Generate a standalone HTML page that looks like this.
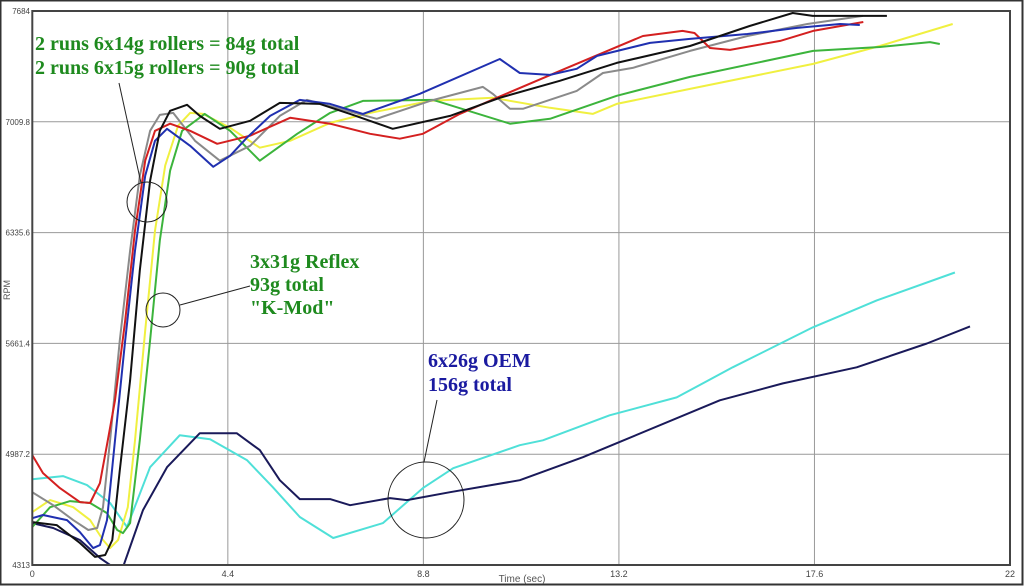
<!DOCTYPE html>
<html><head><meta charset="utf-8"><style>
html,body{margin:0;padding:0;background:#fff;}
svg{display:block;}
</style></head><body>
<svg id="chart" width="1024" height="586" xmlns="http://www.w3.org/2000/svg" font-family="Liberation Sans, sans-serif">
<rect x="0.5" y="0.5" width="1022" height="584" fill="#fff" stroke="#333" stroke-width="2"/>
<g id="grid"></g>
<g id="series" clip-path="url(#clip)"></g>
<defs><clipPath id="clip"><rect x="32" y="10" width="978" height="555"/></clipPath></defs>
<g id="axes"></g>
<text x="10" y="290" font-size="9" fill="#555" transform="rotate(-90 10 290)" text-anchor="middle">RPM</text>
<text x="522" y="582" font-size="10" fill="#555" text-anchor="middle">Time (sec)</text>
<g font-family="Liberation Serif, serif" font-weight="bold" font-size="20">
<text x="35" y="50" fill="#1e8a1e">2 runs 6x14g rollers = 84g total</text>
<text x="35" y="74" fill="#1e8a1e">2 runs 6x15g rollers = 90g total</text>
<text x="250" y="268" fill="#1e8a1e">3x31g Reflex</text>
<text x="250" y="291" fill="#1e8a1e">93g total</text>
<text x="250" y="314" fill="#1e8a1e">"K-Mod"</text>
<text x="428" y="367" fill="#1a1aa0">6x26g OEM</text>
<text x="428" y="391" fill="#1a1aa0">156g total</text>
</g>
<g fill="none" stroke="#222" stroke-width="1">
<circle cx="147" cy="202" r="20"/>
<line x1="119" y1="83" x2="141" y2="183"/>
<circle cx="163" cy="310" r="17"/>
<line x1="180" y1="305" x2="250" y2="286"/>
<circle cx="426" cy="500" r="38"/>
<line x1="437" y1="400" x2="424" y2="462"/>
</g>
</svg>
<script>
const xTicks=[0,4.4,8.8,13.2,17.6,22];
const xTickLabels=["0","4.4","8.8","13.2","17.6","22"];
const yTicks=[4313,4987.2,5661.4,6335.6,7009.8,7684];
const yTickLabels=["4313","4987.2","5661.4","6335.6","7009.8","7684"];
const redT=[0,0.24,0.62,1.07,1.3,1.52,1.7,1.86,2.09,2.31,2.54,2.76,3.1,3.55,4.16,4.9,5.8,6.7,7.6,8.27,8.79,9.62,10.45,12.03,13.74,14.63,14.9,15.25,15.7,16.83,17.57,18.7];
const redR=[4981,4872,4781,4696,4690,4811,5072,5315,5801,6348,6773,6955,6998,6955,6876,6925,7034,6998,6937,6907,6937,7058,7156,7338,7532,7563,7550,7459,7447,7502,7563,7617];
const blackT=[0,0.55,1.07,1.41,1.64,1.8,1.97,2.2,2.42,2.65,2.87,3.1,3.48,3.77,4.22,4.9,5.57,6.47,7.15,8.11,9.4,10.52,11.87,13.15,14.8,16.14,17.11,17.56,18.39,19.23];
const blackR=[4574,4556,4447,4362,4374,4465,4890,5437,6105,6651,6955,7077,7113,7046,6967,7016,7125,7119,7058,6967,7046,7156,7259,7368,7471,7593,7672,7654,7654,7654];
const blueT=[0,0.24,0.78,1.07,1.37,1.52,1.68,1.86,2.09,2.31,2.54,2.76,3.03,3.55,4.07,4.45,4.83,5.35,6.02,6.7,7.44,8.72,10.52,10.97,11.65,12.25,12.71,13.9,14.8,16.09,17.21,18.18,18.62];
const blueR=[4598,4617,4586,4513,4416,4434,4586,5072,5680,6226,6682,6894,6967,6864,6736,6803,6913,7046,7143,7119,7058,7180,7392,7307,7295,7332,7411,7490,7514,7544,7581,7605,7599];
const grayT=[0,0.47,0.92,1.26,1.46,1.59,1.75,1.97,2.2,2.42,2.65,2.87,3.17,3.66,4.22,4.9,5.57,6.18,6.92,7.75,8.95,10.14,10.36,10.75,11.04,12.25,12.84,13.51,14.8,16.09,17.44,18.69];
const grayR=[4756,4677,4586,4526,4538,4665,5072,5680,6226,6682,6955,7052,7064,6894,6773,6864,7046,7143,7089,7028,7137,7222,7180,7089,7089,7198,7307,7338,7441,7532,7605,7654];
const yellowT=[0,0.4,0.92,1.3,1.59,1.75,1.93,2.15,2.31,2.54,2.76,2.99,3.28,3.55,3.84,4.45,5.12,5.8,6.7,7.6,8.95,10.36,11.65,12.61,13.15,14.8,17.57,19.07,20.71];
const yellowR=[4635,4708,4665,4586,4465,4416,4465,4665,5072,5740,6348,6743,6986,7064,7058,6973,6852,6894,7003,7064,7137,7156,7095,7058,7119,7210,7362,7471,7605];
const greenT=[0,0.4,0.85,1.3,1.68,1.91,2.04,2.2,2.42,2.65,2.87,3.1,3.37,3.88,4.45,5.12,5.96,6.7,7.44,9.02,10.75,11.65,13.15,14.8,17.57,19.07,20.2,20.42];
const greenR=[4544,4665,4702,4690,4629,4526,4507,4568,5072,5680,6287,6712,6955,7058,6955,6773,6937,7064,7137,7143,6998,7028,7168,7283,7441,7465,7495,7483];
const cyanT=[0,0.69,1.23,1.75,2.13,2.65,3.32,4.0,4.83,5.41,6.02,6.77,7.89,8.79,9.47,10.97,11.49,12.99,14.5,15.76,17.56,19.0,20.76];
const cyanR=[4835,4854,4799,4690,4544,4908,5103,5078,4951,4787,4605,4477,4568,4781,4902,5042,5072,5224,5333,5516,5759,5923,6093];
const navyT=[0,0.47,1.07,1.52,1.75,2.04,2.49,3.03,3.77,4.6,5.12,5.57,6.02,6.7,7.15,8.05,8.43,9.4,10.97,12.39,13.15,15.47,16.89,18.55,20.13,21.1];
const navyR=[4568,4538,4465,4356,4313,4300,4647,4908,5115,5115,5012,4829,4714,4714,4677,4720,4708,4756,4829,4969,5054,5315,5418,5516,5661,5765];

const X0=32.3,X1=1010,Y0=565,Y1=11;
function xs(t){return X0+(t-0)/(22-0)*(X1-X0);}
function ys(r){return Y0-(r-4313)/(7684-4313)*(Y0-Y1);}
const NS="http://www.w3.org/2000/svg";
const grid=document.getElementById('grid'),axes=document.getElementById('axes'),ser=document.getElementById('series');
function mk(tag,attrs,parent){const e=document.createElementNS(NS,tag);for(const k in attrs)e.setAttribute(k,attrs[k]);parent.appendChild(e);return e;}
xTicks.forEach((t,i)=>{
  if(i>0&&i<xTicks.length-1){const l=mk('line',{x1:xs(t),x2:xs(t),y1:Y1,y2:Y0,stroke:'#999','stroke-width':1},grid);
  
  }
  const tx=mk('text',{x:xs(t),y:577,'font-size':9,fill:'#444','text-anchor':'middle'},axes);
  tx.textContent=xTickLabels[i];
  
  
});
yTicks.forEach((r,i)=>{
  if(i>0&&i<yTicks.length-1){const l=mk('line',{x1:X0,x2:X1,y1:ys(r),y2:ys(r),stroke:'#999','stroke-width':1},grid);
  
  }
  const tx=mk('text',{x:30,y:ys(r)+3,'font-size':8,fill:'#444','text-anchor':'end'},axes);
  tx.textContent=yTickLabels[i];
  
  
});
const frame=mk('rect',{x:X0,y:Y1,width:X1-X0,height:Y0-Y1,fill:'none',stroke:'#444','stroke-width':2},axes);


const list=[['series-cyan',cyanT,cyanR,'#4fe0d8'],['series-navy',navyT,navyR,'#1a1a5a'],['series-yellow',yellowT,yellowR,'#f0f040'],['series-green',greenT,greenR,'#3cb43c'],['series-gray',grayT,grayR,'#8a8a8a'],['series-red',redT,redR,'#d42020'],['series-blue',blueT,blueR,'#2030b0'],['series-black',blackT,blackR,'#111']];
list.forEach(s=>{
  const d=s[1].map((t,i)=>(i?'L':'M')+xs(t).toFixed(1)+','+ys(s[2][i]).toFixed(1)).join(' ');
  const p=mk('path',{d:d,fill:'none',stroke:s[3],'stroke-width':2,'stroke-linejoin':'round'},ser);
  
  
});
</script>
</body></html>
